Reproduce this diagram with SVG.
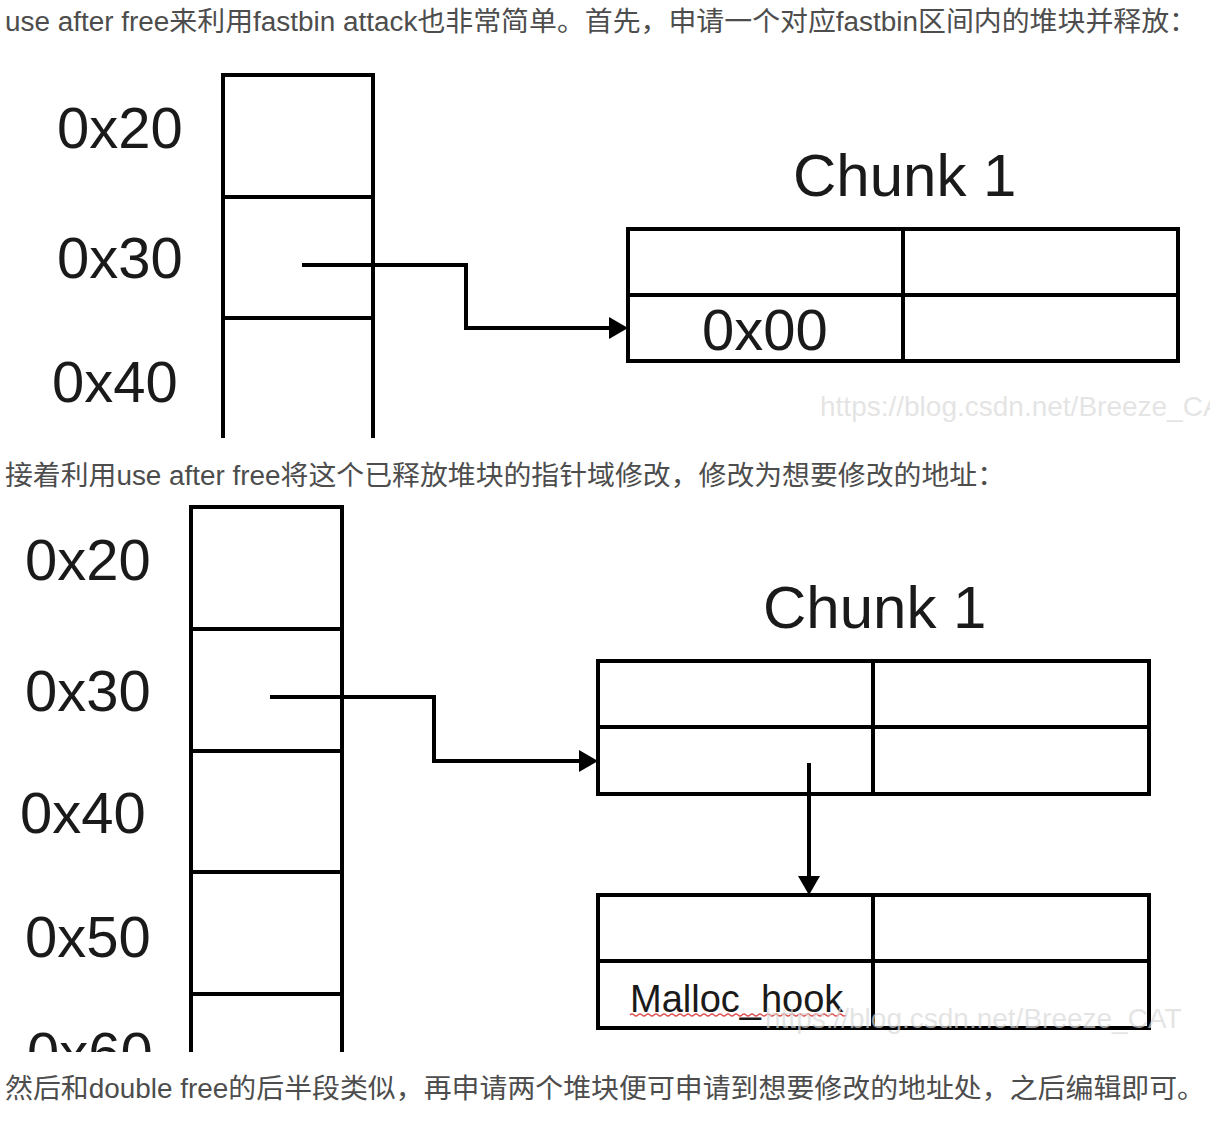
<svg xmlns="http://www.w3.org/2000/svg" width="1210" height="1125" viewBox="0 0 1210 1125">
<defs>
<style>
.para{font-family:"Liberation Sans","Noto Sans CJK SC",sans-serif;font-size:27px;fill:#4d4d4d}
.lbl{font-family:"Liberation Sans",Arial,sans-serif;font-size:58px;fill:#1a1a1a}
.ttl{font-family:"Liberation Sans",Arial,sans-serif;font-size:60px;fill:#1a1a1a}
.box{fill:none;stroke:#000;stroke-width:4}
.ln{fill:none;stroke:#000;stroke-width:4}
.wm{font-family:"Liberation Sans",Arial,sans-serif;font-size:28px;fill:#d8d8d8;fill-opacity:0.7}
.ah{fill:#000}
</style>
<clipPath id="clipTop"><rect x="0" y="45" width="1210" height="393"/></clipPath>
<clipPath id="clipBot"><rect x="0" y="500" width="1210" height="552"/></clipPath>
</defs>
<rect width="1210" height="1125" fill="#fff"/>
<text class="para" x="5" y="31" textLength="1192" lengthAdjust="spacingAndGlyphs">use after free来利用fastbin attack也非常简单。首先，申请一个对应fastbin区间内的堆块并释放：</text>
<text class="para" x="5" y="485" textLength="1000" lengthAdjust="spacingAndGlyphs">接着利用use after free将这个已释放堆块的指针域修改，修改为想要修改的地址：</text>
<text class="para" x="5" y="1098" textLength="1200" lengthAdjust="spacingAndGlyphs">然后和double free的后半段类似，再申请两个堆块便可申请到想要修改的地址处，之后编辑即可。</text>

<g id="diagram1" clip-path="url(#clipTop)">
<g id="top-column">
<path class="ln" d="M223,460 V75 H373 V460 M223,197 H373 M223,318 H373"/>
</g>
<g id="top-labels">
<text class="lbl" x="57" y="148">0x20</text>
<text class="lbl" x="57" y="278">0x30</text>
<text class="lbl" x="52" y="402">0x40</text>
</g>
<g id="top-chunk1">
<text class="ttl" x="793" y="196">Chunk 1</text>
<rect class="box" x="628" y="229" width="550" height="132"/>
<path class="ln" d="M628,295 H1178 M903,229 V361"/>
<text class="lbl" x="702" y="350">0x00</text>
</g>
<g id="top-connectors">
<path class="ln" d="M302,265 H466 V328 H612"/>
<polygon class="ah" points="609,317 628,328 609,339"/>
</g>
<text class="wm" x="820" y="416" fill-opacity="0.35">https://blog.csdn.net/Breeze_CAT</text>
</g>

<g id="diagram2" clip-path="url(#clipBot)">
<g id="bot-column">
<path class="ln" d="M191,1080 V507 H342 V1080 M191,629 H342 M191,751 H342 M191,872 H342 M191,994 H342"/>
</g>
<g id="bot-labels">
<text class="lbl" x="25" y="580">0x20</text>
<text class="lbl" x="25" y="711">0x30</text>
<text class="lbl" x="20" y="833">0x40</text>
<text class="lbl" x="25" y="957">0x50</text>
<text class="lbl" x="27" y="1073">0x60</text>
</g>
<g id="bot-chunk1">
<text class="ttl" x="763" y="628">Chunk 1</text>
<rect class="box" x="598" y="661" width="551" height="133"/>
<path class="ln" d="M598,727 H1149 M873,661 V794"/>
</g>
<g id="bot-target">
<rect class="box" x="598" y="895" width="551" height="133"/>
<path class="ln" d="M598,961 H1149 M873,895 V1028"/>
<text x="630" y="1012" style="font-family:'Liberation Sans',Arial,sans-serif;font-size:38px;fill:#1a1a1a">Malloc_hook</text>
<path d="M630,1015 q2,-2 4,0 t4,0 t4,0 t4,0 t4,0 t4,0 t4,0 t4,0 t4,0 t4,0 t4,0 t4,0 t4,0 t4,0 t4,0 t4,0 t4,0 t4,0 t4,0 t4,0 t4,0 t4,0 t4,0 t4,0 t4,0 t4,0 t4,0 t4,0 t4,0 t4,0 t4,0 t4,0 t4,0 t4,0 t4,0 t4,0 t4,0 t4,0 t4,0 t4,0 t4,0 t4,0 t4,0 t4,0 t4,0 t4,0 t4,0 t4,0 t4,0 t4,0 t4,0 t4,0 t4,0 t4,0" fill="none" stroke="#e05050" stroke-width="1.3"/>
</g>
<g id="bot-connectors">
<path class="ln" d="M270,697 H434 V761 H582"/>
<polygon class="ah" points="579,750 598,761 579,772"/>
<path class="ln" d="M809,763 V878"/>
<polygon class="ah" points="798,876 809,895 820,876"/>
</g>
<text class="wm" x="765" y="1028">https://blog.csdn.net/Breeze_CAT</text>
</g>
</svg>
